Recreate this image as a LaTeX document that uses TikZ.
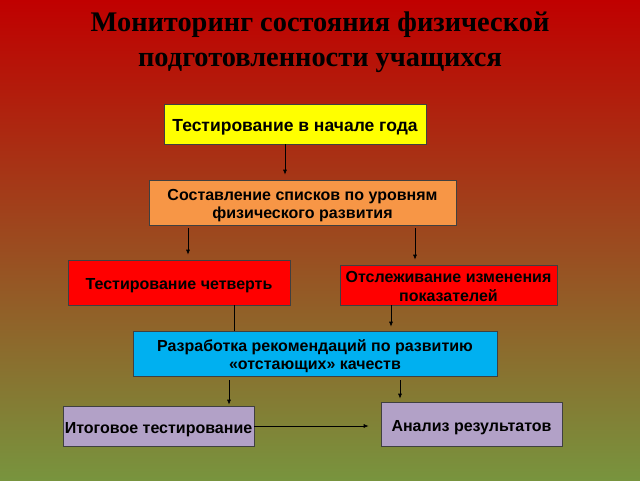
\documentclass[tikz,border=0pt]{standalone}
\usepackage{fontspec}
\setmainfont{Liberation Sans}
\newfontfamily\titleFont{Liberation Serif}
\usetikzlibrary{arrows.meta}
\definecolor{bgTop}{RGB}{192,0,0}
\definecolor{bgMiddle}{RGB}{156,78,36}
\definecolor{bgBottom}{RGB}{120,148,62}
\definecolor{boxYellow}{RGB}{255,255,0}
\definecolor{boxOrange}{RGB}{247,150,70}
\definecolor{boxRed}{RGB}{255,0,0}
\definecolor{boxBlue}{RGB}{0,176,240}
\definecolor{boxLilac}{RGB}{178,161,199}
\newcommand{\stageBox}[6]{%%
  \node[boxStyle,fill=#5,minimum width=#3,minimum height=#4] (#1) at (#2)
    {\raisebox{-3.5pt}[\height][\depth]{\begin{tabular}{@{}c@{}}#6\end{tabular}}};
}

\begin{document}
\begin{tikzpicture}[%%
  x=1pt,y=-1pt,%%
  boxStyle/.style={draw=black!75,line width=0.6pt,inner sep=1pt,%%
    font=\bfseries\fontsize{16}{18.5}\selectfont},%%
  arrowStyle/.style={-{Latex[length=5pt,width=4pt]},line width=0.7pt},%%
  lineStyle/.style={-,line width=0.7pt}%%
]
%%
%% Background.
\shade[top color=bgTop,middle color=bgMiddle,bottom color=bgBottom] (0,0) rectangle (640,480);
\useasboundingbox (0,0) rectangle (640,480);
%%
\node[align=center,font=\titleFont\bfseries\fontsize{28.4}{35}\selectfont] (title) at (320,42)
  {Мониторинг состояния физической\\подготовленности учащихся};
%%
%% The stages.
\stageBox{start}{295,124}{262pt}{40pt}{boxYellow}{\fontsize{17.5}{20}\selectfont Тестирование в начале года}
\stageBox{lists}{302.5,202.5}{307pt}{45pt}{boxOrange}{Составление списков по уровням\\физического развития}
\stageBox{quarter}{179,282.5}{222pt}{45pt}{boxRed}{Тестирование четверть}
\stageBox{tracking}{448.5,285}{217pt}{40pt}{boxRed}{Отслеживание изменения\\показателей}
\stageBox{advice}{315,353.5}{364pt}{45pt}{boxBlue}{Разработка рекомендаций по развитию\\«отстающих» качеств}
\stageBox{final}{158.5,426}{191pt}{40pt}{boxLilac}{Итоговое тестирование}
\stageBox{analysis}{471.5,424}{181pt}{44pt}{boxLilac}{Анализ результатов}
%%
%% Columns of the connectors.
\coordinate (colA) at (285,0);
\coordinate (colB) at (188,0);
\coordinate (colC) at (415,0);
\coordinate (colD) at (234,0);
\coordinate (colE) at (391,0);
\coordinate (colF) at (229,0);
\coordinate (colG) at (400,0);
%%
\draw[arrowStyle,shorten >=5pt] (start.south -| colA) -- (lists.north -| colA);
\draw[arrowStyle,shorten <=3pt,shorten >=5pt] (lists.south -| colB) -- (quarter.north -| colB);
\draw[arrowStyle,shorten <=3pt,shorten >=5pt] (lists.south -| colC) -- (tracking.north -| colC);
\draw[lineStyle] (quarter.south -| colD) -- (advice.north -| colD);
\draw[arrowStyle,shorten >=4pt] (tracking.south -| colE) -- (advice.north -| colE);
\draw[arrowStyle,shorten <=4pt,shorten >=1pt] (advice.south -| colF) -- (final.north -| colF);
\draw[arrowStyle,shorten <=4pt,shorten >=3pt] (advice.south -| colG) -- (analysis.north -| colG);
\draw[arrowStyle,shorten >=12pt] (final.east) -- (final.east -| analysis.west);
\end{tikzpicture}
\end{document}
